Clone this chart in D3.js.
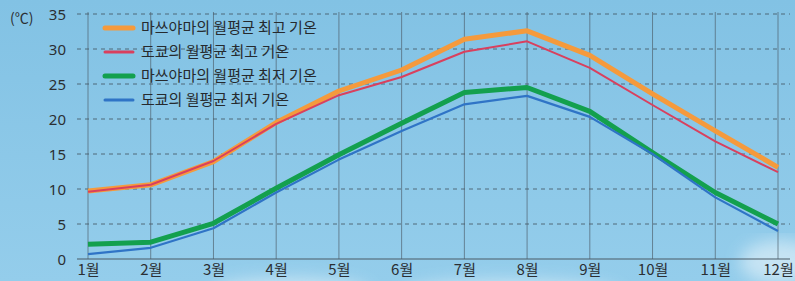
<!doctype html>
<html>
<head>
<meta charset="utf-8" />
<title>월평균 기온</title>
<script src="https://d3js.org/d3.v7.min.js"></script>
<style>
  body { margin: 0; overflow: hidden; }
  svg { display: block; }
</style>
</head>
<body>
<svg id="chart" width="795" height="281"></svg>
<script>
// months, y ticks and the four series (℃)
var months = ["1월", "2월", "3월", "4월", "5월", "6월", "7월", "8월", "9월", "10월", "11월", "12월"];
var yTicks = [0, 5, 10, 15, 20, 25, 30, 35];
var matsuyamaMax = [9.7, 10.6, 13.9, 19.5, 24.0, 27.0, 31.4, 32.6, 29.1, 23.6, 18.3, 13.1];
var tokyoMax = [9.6, 10.6, 14.0, 19.3, 23.4, 26.0, 29.6, 31.1, 27.3, 22.0, 16.8, 12.4];
var matsuyamaMin = [2.1, 2.4, 5.1, 10.1, 14.9, 19.4, 23.8, 24.5, 21.1, 15.2, 9.5, 5.0];
var tokyoMin = [0.7, 1.6, 4.4, 9.5, 14.2, 18.3, 22.1, 23.3, 20.3, 15.0, 8.8, 4.0];

// drawing order: thick lines first, thin ones on top
var series = [
  { name: "마쓰야마의 월평균 최고 기온", values: matsuyamaMax, color: "#f59a3c", width: 5, row: 0 },
  { name: "도쿄의 월평균 최고 기온", values: tokyoMax, color: "#d9405e", width: 2, row: 1 },
  { name: "마쓰야마의 월평균 최저 기온", values: matsuyamaMin, color: "#13a04e", width: 5, row: 2 },
  { name: "도쿄의 월평균 최저 기온", values: tokyoMin, color: "#2f74c6", width: 2.2, row: 3 }
];

var svg = d3.select("#chart");
var W = 795, H = 281;

// sky background
var defs = svg.append("defs");
var grad = defs.append("linearGradient").attr("id", "sky")
  .attr("x1", 0).attr("y1", 0).attr("x2", 0).attr("y2", 1);
grad.append("stop").attr("offset", "0%").attr("stop-color", "#82c2e4");
grad.append("stop").attr("offset", "100%").attr("stop-color", "#94cdeb");
defs.append("filter").attr("id", "blur").append("feGaussianBlur").attr("stdDeviation", 8);

svg.append("rect").attr("width", W).attr("height", H).attr("fill", "url(#sky)");
var clouds = svg.append("g").attr("filter", "url(#blur)").attr("fill", "#dceef8").attr("opacity", 0.7);
clouds.append("ellipse").attr("cx", 290).attr("cy", 292).attr("rx", 80).attr("ry", 14);
clouds.append("ellipse").attr("cx", 510).attr("cy", 294).attr("rx", 110).attr("ry", 14);
clouds.append("ellipse").attr("cx", 780).attr("cy", 262).attr("rx", 40).attr("ry", 22);

var x = d3.scalePoint().domain(months).range([88, 778]);
var y = d3.scaleLinear().domain([0, 35]).range([259, 14]);

// grid
svg.append("g").selectAll("line").data(yTicks.filter(d => d > 0)).enter()
  .append("line")
  .attr("x1", 77).attr("x2", 790)
  .attr("y1", d => y(d)).attr("y2", d => y(d))
  .attr("stroke", "#3d4a55").attr("stroke-width", 1)
  .attr("stroke-dasharray", "4,4").attr("opacity", 0.75);

svg.append("g").selectAll("line").data(months).enter()
  .append("line")
  .attr("x1", d => x(d)).attr("x2", d => x(d))
  .attr("y1", y(35) - 2).attr("y2", y(0))
  .attr("stroke", "#4b5a66").attr("stroke-width", 1).attr("opacity", 0.65);

svg.append("line").attr("x1", 77).attr("x2", 790)
  .attr("y1", y(0)).attr("y2", y(0))
  .attr("stroke", "#4b5a66").attr("stroke-width", 1.2);

// axes
var yAxis = svg.append("g").attr("transform", "translate(66,0)")
  .call(d3.axisLeft(y).tickValues(yTicks).tickSize(0).tickPadding(0));
yAxis.select(".domain").remove();
yAxis.selectAll("text").attr("font-size", 15).attr("fill", "#2b2f33")
  .attr("font-family", "Noto Sans, sans-serif").attr("dy", "0.35em");

var xAxis = svg.append("g").attr("transform", "translate(0," + y(0) + ")")
  .call(d3.axisBottom(x).tickSize(0).tickPadding(5));
xAxis.select(".domain").remove();
xAxis.selectAll("text").attr("font-size", 15).attr("fill", "#2b2f33")
  .attr("font-family", "Noto Sans CJK KR, sans-serif");

svg.append("text").attr("x", 10).attr("y", 23).text("(℃)")
  .attr("font-size", 14).attr("fill", "#2b2f33")
  .attr("font-family", "Noto Sans CJK KR, sans-serif");

// lines
var line = d3.line().x((d, i) => x(months[i])).y(d => y(d));
svg.append("g").selectAll("path").data(series).enter()
  .append("path")
  .attr("d", d => line(d.values))
  .attr("fill", "none")
  .attr("stroke", d => d.color)
  .attr("stroke-width", d => d.width)
  .attr("stroke-linejoin", "round");

// legend
var legend = svg.append("g").selectAll("g").data(series).enter()
  .append("g")
  .attr("transform", d => "translate(105," + (28 + d.row * 24) + ")");
legend.append("line").attr("x1", 0).attr("x2", 28)
  .attr("stroke", d => d.color)
  .attr("stroke-width", d => d.width === 5 ? 5 : 3)
  .attr("stroke-linecap", "round");
legend.append("text").attr("x", 36).attr("dy", "0.35em")
  .text(d => d.name)
  .attr("font-size", 15).attr("fill", "#262a2e")
  .attr("font-family", "Noto Sans CJK KR, sans-serif");
</script>
</body>
</html>
